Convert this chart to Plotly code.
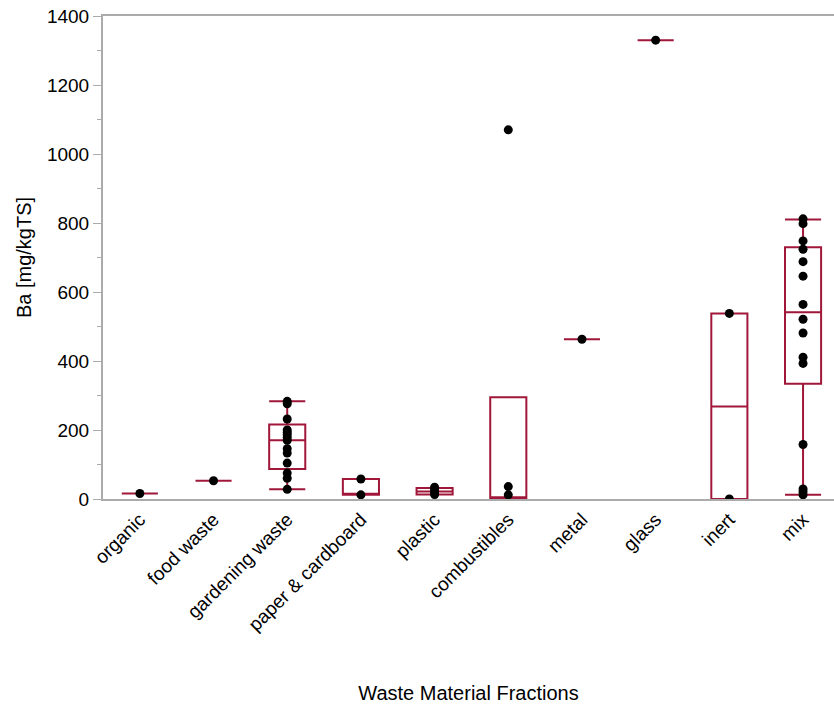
import plotly.graph_objects as go

categories = ["organic", "food waste", "gardening waste", "paper & cardboard", "plastic",
              "combustibles", "metal", "glass", "inert", "mix"]

# individual measurements (Ba, mg/kgTS) per fraction
points = {
    "organic": [16],
    "food waste": [53],
    "gardening waste": [283, 276, 232, 200, 193, 186, 178, 170, 146, 133, 104, 75, 60, 28],
    "paper & cardboard": [58, 12],
    "plastic": [34, 26, 20, 13],
    "combustibles": [1070, 36, 12],
    "metal": [463],
    "glass": [1330],
    "inert": [538, 0],
    "mix": [812, 798, 748, 724, 688, 646, 564, 521, 481, 411, 393, 158, 29, 21, 12],
}

# box statistics
q1 = [16, 53, 87, 12, 13, 2, 463, 1330, 0, 334]
median = [16, 53, 170, 12, 22, 2, 463, 1330, 268, 541]
q3 = [16, 53, 216, 58, 32, 295, 463, 1330, 538, 730]
lowerfence = [16, 53, 28, 12, 13, 2, 463, 1330, 0, 12]
upperfence = [16, 53, 283, 58, 32, 295, 463, 1330, 538, 810]

RED = "#A0173A"
FONT = "Liberation Sans, Arial, sans-serif"

fig = go.Figure()
fig.add_trace(go.Box(
    x=categories, q1=q1, median=median, q3=q3,
    lowerfence=lowerfence, upperfence=upperfence,
    boxpoints=False, width=0.49, whiskerwidth=1,
    line=dict(color=RED, width=2), fillcolor="rgba(0,0,0,0)",
    showlegend=False, hoverinfo="skip",
))

px, py = [], []
for c in categories:
    for v in points[c]:
        px.append(c)
        py.append(v)
fig.add_trace(go.Scatter(
    x=px, y=py, mode="markers",
    marker=dict(color="black", size=9),
    showlegend=False,
))

fig.update_layout(
    width=834, height=704,
    margin=dict(l=103, r=0, t=16, b=205),
    plot_bgcolor="white", paper_bgcolor="white",
    font=dict(family=FONT, size=19, color="black"),
)
fig.update_xaxes(
    type="category", categoryorder="array", categoryarray=categories,
    range=[-0.5, 9.42], tickangle=-45,
    showline=True, linecolor="#ababab", linewidth=2, mirror=True,
    showgrid=False, ticks="", zeroline=False,
    tickfont=dict(size=19),
    title=dict(text="Waste Material Fractions", standoff=55, font=dict(size=20)),
    automargin=False,
)
fig.update_yaxes(
    range=[0, 1400], dtick=200,
    showline=True, linecolor="#ababab", linewidth=2,
    showgrid=False, zeroline=False,
    ticks="outside", ticklen=8, tickcolor="#ababab", tickwidth=1,
    tickfont=dict(size=19),
    minor=dict(dtick=100, ticks="outside", ticklen=4, tickcolor="#ababab"),
    title=dict(text="Ba [mg/kgTS]", standoff=10, font=dict(size=20)),
    automargin=False,
)

fig.write_html("out.html")
